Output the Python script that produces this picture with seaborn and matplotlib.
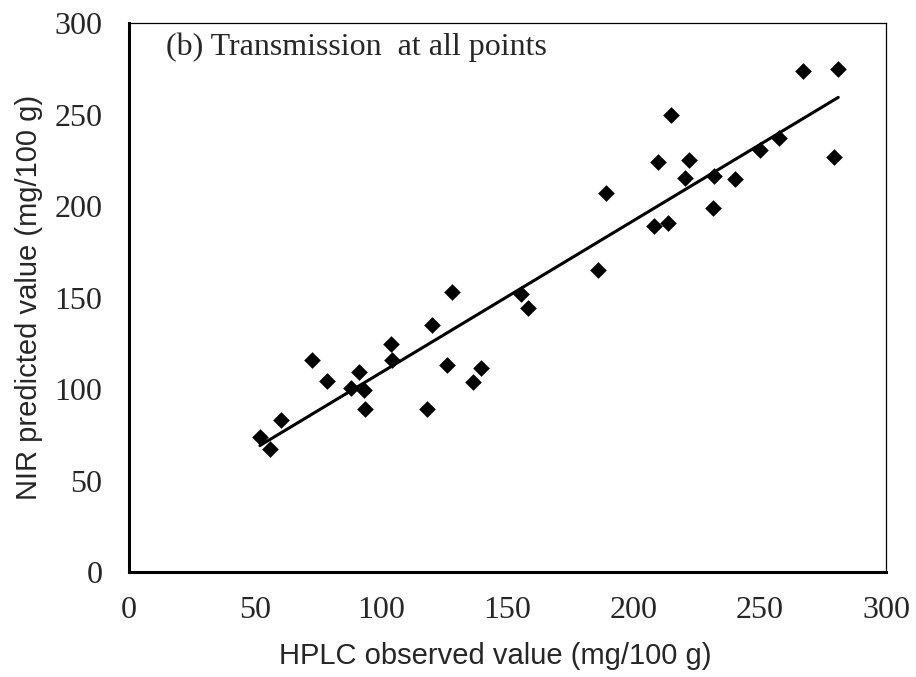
import matplotlib
matplotlib.use("Agg")
import matplotlib.pyplot as plt
import seaborn as sns
import numpy as np
import pandas as pd

# Data
hplc_observed = [51.9, 55.9, 60.2, 72.7, 78.3, 88.0, 91.3, 93.3, 93.5, 103.7, 104.1,
                 118.2, 120.0, 125.9, 128.0, 136.5, 139.5, 155.4, 158.1, 186.0, 188.9,
                 208.1, 209.5, 213.8, 214.7, 220.4, 222.1, 231.3, 232.0, 240.2, 250.1,
                 257.7, 267.3, 279.6, 281.1]
nir_predicted = [73.8, 67.2, 83.0, 115.8, 104.5, 100.4, 109.5, 99.5, 89.2, 124.4, 115.8,
                 89.2, 135.0, 113.1, 153.0, 103.6, 111.3, 151.9, 144.3, 165.0, 206.9,
                 189.3, 224.2, 190.6, 249.7, 215.1, 225.1, 198.7, 216.6, 214.6, 230.6,
                 237.3, 273.9, 226.6, 274.9]
x_ticks = [0, 50, 100, 150, 200, 250, 300]
y_ticks = [0, 50, 100, 150, 200, 250, 300]

df = pd.DataFrame({"x": hplc_observed, "y": nir_predicted})

sns.set_theme(style="white")
plt.rcParams["font.family"] = ["Liberation Serif", "DejaVu Serif"]

fig = plt.figure(figsize=(9.16, 6.77), dpi=100)
ax = fig.add_axes([0.1408, 0.1551, 0.9672 - 0.1408, 0.966 - 0.1551])

sns.regplot(data=df, x="x", y="y", ax=ax, ci=None, truncate=True,
            marker="D", color="black",
            scatter_kws={"s": 72, "edgecolors": "black", "linewidths": 0, "alpha": 1},
            line_kws={"linewidth": 2.2, "color": "black"})

ax.set_xlim(0, 300)
ax.set_ylim(0, 300)
ax.set_xticks(x_ticks)
ax.set_yticks(y_ticks)
ax.set_xticklabels([str(t) for t in x_ticks], fontsize=23, family="Liberation Serif")
ax.set_yticklabels([str(t) for t in y_ticks], fontsize=23, family="Liberation Serif")
ax.tick_params(axis="both", direction="out", length=7, width=2, color="black")
ax.tick_params(axis="y", pad=12)
ax.tick_params(axis="x", pad=10)

ax.set_xlabel("HPLC observed value (mg/100 g)", fontsize=21, family="Liberation Sans")
ax.xaxis.label.set_verticalalignment("top")
ax.xaxis.set_label_coords(0.484, -0.128)
ax.set_ylabel("NIR predicted value (mg/100 g)", fontsize=21, family="Liberation Sans", labelpad=8)

for side in ["left", "bottom"]:
    ax.spines[side].set_linewidth(2.2)
    ax.spines[side].set_color("black")
for side in ["top", "right"]:
    ax.spines[side].set_linewidth(0.9)
    ax.spines[side].set_color("black")
ax.grid(False)

ax.text(14.5, 287, "(b) Transmission  at all points", fontsize=23,
        family="Liberation Serif", va="center", ha="left")

fig.savefig("out.png", dpi=100, facecolor="white")
